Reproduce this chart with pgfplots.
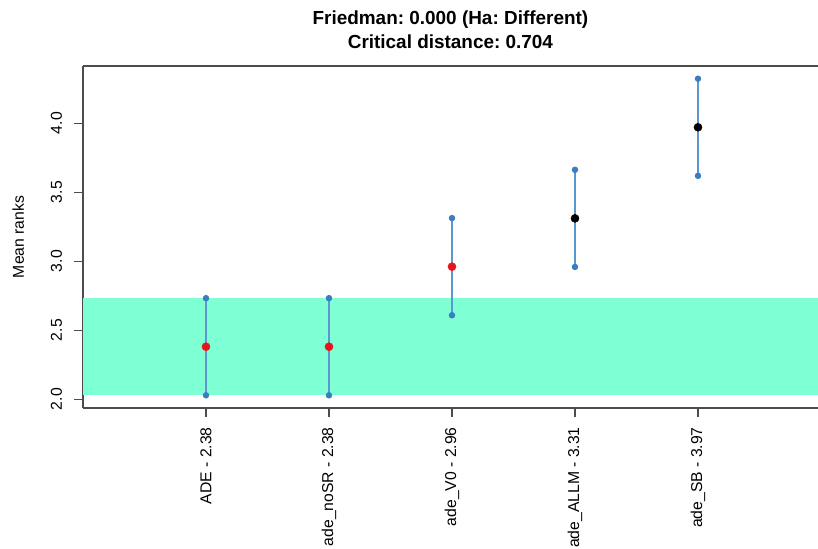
\documentclass[border=0pt]{standalone}
\usepackage{fontspec}
\setmainfont{Liberation Sans}
\usepackage{pgfplots}
\pgfplotsset{compat=1.18}
\definecolor{band}{HTML}{7FFFD4}
\definecolor{barline}{HTML}{5A98CF}
\definecolor{bardot}{HTML}{3A7DC0}
\definecolor{ptred}{HTML}{E8141B}
\begin{document}
\frenchspacing
\begin{tikzpicture}
\begin{axis}[
  at={(0,0)}, anchor=south west,
  scale only axis, width=553.5pt, height=256.5pt,
  xmin=0, xmax=6, ymin=1.936, ymax=4.414,
  axis lines=left, axis line style={-, black!70, line width=0.8pt},
  tick align=outside, major tick length=6.75pt,
  tick style={black!70, line width=0.8pt},
  xtick={1,2,3,4,5},
  xticklabels={ADE - 2.38, ade\_noSR - 2.38, ade\_V0 - 2.96, ade\_ALLM - 3.31, ade\_SB - 3.97},
  ytick={2,2.5,3,3.5,4},
  yticklabel style={rotate=90, anchor=base, inner sep=0pt, font=\fontsize{11.8}{14}\selectfont},
  xticklabel style={rotate=90, anchor=east, inner sep=0pt, font=\fontsize{11.8}{14}\selectfont},
  yticklabel shift=9pt, xticklabel shift=7.5pt,
  yticklabel={\pgfmathprintnumber[fixed,fixed zerofill,precision=1]{\tick}},
  /pgf/number format/assume math mode=true,
  clip=false,
]
\addplot[fill=band, draw=none] coordinates {(0,2.028) (6,2.028) (6,2.732) (0,2.732)} -- cycle;
\addplot[barline, line width=0.8pt, mark=*, mark size=2pt, mark options={bardot}] coordinates {(1,2.028) (1,2.732)};
\addplot[barline, line width=0.8pt, mark=*, mark size=2pt, mark options={bardot}] coordinates {(2,2.028) (2,2.732)};
\addplot[barline, line width=0.8pt, mark=*, mark size=2pt, mark options={bardot}] coordinates {(3,2.608) (3,3.312)};
\addplot[barline, line width=0.8pt, mark=*, mark size=2pt, mark options={bardot}] coordinates {(4,2.958) (4,3.662)};
\addplot[barline, line width=0.8pt, mark=*, mark size=2pt, mark options={bardot}] coordinates {(5,3.618) (5,4.322)};
\addplot[only marks, mark=*, mark size=3pt, ptred] coordinates {(1,2.38) (2,2.38) (3,2.96)};
\addplot[only marks, mark=*, mark size=3pt, black] coordinates {(4,3.31) (5,3.97)};
\draw[black!70, line width=0.8pt] (rel axis cs:0,1) -- (rel axis cs:1,1);
\node[anchor=base, inner sep=0pt, font=\fontsize{14.2}{17}\selectfont\bfseries, yshift=30.9pt] at (rel axis cs:0.4979,1) {Friedman: 0.000 (Ha: Different)};
\node[anchor=base, inner sep=0pt, font=\fontsize{14.2}{17}\selectfont\bfseries, yshift=12.9pt] at (rel axis cs:0.4979,1) {Critical distance: 0.704};
\node[xshift=-44.25pt, rotate=90, anchor=base, inner sep=0pt, font=\fontsize{11.8}{14}\selectfont] at (rel axis cs:0,0.5) {Mean ranks};
\end{axis}
\pgfresetboundingbox
\path (-62.25pt,-105.75pt) rectangle (551.25pt,306pt);
\end{tikzpicture}
\end{document}
